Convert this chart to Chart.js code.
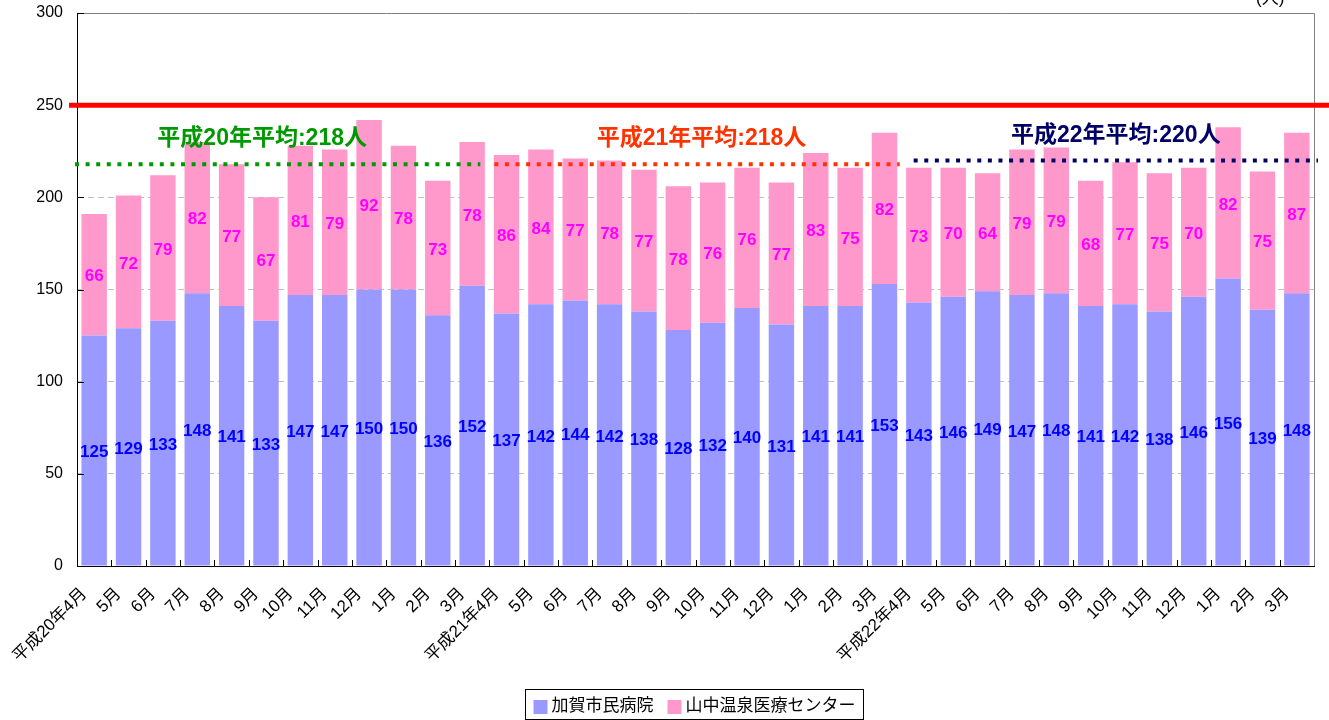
<!DOCTYPE html>
<html>
<head>
<meta charset="utf-8">
<script src="https://cdn.jsdelivr.net/npm/chart.js@4.4.0/dist/chart.umd.min.js"></script>
<style>
  html, body { margin: 0; padding: 0; background: #fff; }
  #wrap { width: 1329px; height: 720px; }
</style>
</head>
<body>
<div id="wrap"><canvas id="grafico" width="1329" height="720"></canvas></div>
<script>
// Meses (平成20年4月 ～ 平成23年3月)
const meses = [
  '平成20年4月', '5月', '6月', '7月', '8月', '9月', '10月', '11月', '12月', '1月', '2月', '3月',
  '平成21年4月', '5月', '6月', '7月', '8月', '9月', '10月', '11月', '12月', '1月', '2月', '3月',
  '平成22年4月', '5月', '6月', '7月', '8月', '9月', '10月', '11月', '12月', '1月', '2月', '3月'
];

// 加賀市民病院
const kagaShimin = [
  125, 129, 133, 148, 141, 133, 147, 147, 150, 150, 136, 152,
  137, 142, 144, 142, 138, 128, 132, 140, 131, 141, 141, 153,
  143, 146, 149, 147, 148, 141, 142, 138, 146, 156, 139, 148
];

// 山中温泉医療センター
const yamanaka = [
  66, 72, 79, 82, 77, 67, 81, 79, 92, 78, 73, 78,
  86, 84, 77, 78, 77, 78, 76, 76, 77, 83, 75, 82,
  73, 70, 64, 79, 79, 68, 77, 75, 70, 82, 75, 87
];

const serieNombres = ['加賀市民病院', '山中温泉医療センター'];

// Promedios anuales
const promedioTextos = ['平成20年平均:218人', '平成21年平均:218人', '平成22年平均:220人'];
const promedioValores = [218, 218, 220];
const promedioDesde = [0, 12, 24];
const promedioHasta = [11, 23, 35];

// Linea de referencia
const lineaObjetivo = 250;

const yTicks = [0, 50, 100, 150, 200, 250, 300];

// estilos
const colorBarras = ['#9999ff', '#ff99cc'];
const colorEtiquetas = ['#0000ff', '#ff00ff'];
const promedioColores = ['#009900', '#ff3300', '#000066'];
const promedioInicio = [-2, 5, 12];   // ajuste del trazo punteado (px)
const promedioFin = [-9, -2, 4];
const promedioTextoDx = [-21, 6, 8];
const fuente = '"Liberation Sans", Arial, "Noto Sans CJK JP", sans-serif';

const extras = {
  id: 'extras',
  afterDatasetsDraw(chart) {
    const { ctx, chartArea: a, scales: { x, y } } = chart;
    const ancho = x.getPixelForValue(1) - x.getPixelForValue(0);
    const limite = i => x.getPixelForValue(i) - ancho / 2;
    ctx.save();

    // marco superior / derecho
    ctx.strokeStyle = '#808080';
    ctx.lineWidth = 1;
    ctx.beginPath();
    ctx.moveTo(a.left, Math.round(a.top) + 0.5);
    ctx.lineTo(Math.round(a.right) + 0.5, Math.round(a.top) + 0.5);
    ctx.lineTo(Math.round(a.right) + 0.5, a.bottom);
    ctx.stroke();

    // marcas interiores
    ctx.strokeStyle = '#000';
    ctx.beginPath();
    for (let i = 1; i < meses.length; i++) {
      const px = Math.round(limite(i)) + 0.5;
      ctx.moveTo(px, a.bottom);
      ctx.lineTo(px, a.bottom - 6);
    }
    yTicks.forEach(v => {
      const py = Math.round(y.getPixelForValue(v)) + 0.5;
      ctx.moveTo(a.left, py);
      ctx.lineTo(a.left + 7, py);
    });
    ctx.stroke();

    // etiquetas de valores
    ctx.font = 'bold 17px ' + fuente;
    ctx.textAlign = 'center';
    ctx.textBaseline = 'middle';
    chart.data.datasets.forEach((ds, d) => {
      const meta = chart.getDatasetMeta(d);
      ctx.fillStyle = colorEtiquetas[d];
      meta.data.forEach((el, i) => {
        ctx.fillText(String(ds.data[i]), el.x, (el.y + el.base) / 2 + 2);
      });
    });

    // linea 250
    const ry = y.getPixelForValue(lineaObjetivo);
    ctx.strokeStyle = '#ff0000';
    ctx.lineWidth = 5;
    ctx.beginPath();
    ctx.moveTo(a.left - 8, ry);
    ctx.lineTo(chart.width, ry);
    ctx.stroke();

    // promedios
    promedioValores.forEach((v, k) => {
      const py = y.getPixelForValue(v);
      const x0 = limite(promedioDesde[k]) + promedioInicio[k];
      const x1 = limite(promedioHasta[k] + 1) + promedioFin[k];
      ctx.strokeStyle = promedioColores[k];
      ctx.lineWidth = 4;
      ctx.setLineDash([4, 6.6]);
      ctx.beginPath();
      ctx.moveTo(x0, py);
      ctx.lineTo(x1, py);
      ctx.stroke();
      ctx.setLineDash([]);

      const cx = (x.getPixelForValue(promedioDesde[k]) + x.getPixelForValue(promedioHasta[k])) / 2 + promedioTextoDx[k];
      ctx.font = 'bold 23px ' + fuente;
      ctx.fillStyle = promedioColores[k];
      ctx.textAlign = 'center';
      ctx.textBaseline = 'middle';
      ctx.fillText(promedioTextos[k], cx, py - 25);
    });

    ctx.restore();
  },
  afterDraw(chart) {
    const { ctx } = chart;
    ctx.save();
    // unidad
    ctx.font = '17px ' + fuente;
    ctx.fillStyle = '#000';
    ctx.textAlign = 'left';
    ctx.textBaseline = 'alphabetic';
    ctx.fillText('(人)', 1256, 4);

    // leyenda
    ctx.font = '17px ' + fuente;
    const caja = 14, sep = 4, entre = 14, pad = 8;
    const anchos = serieNombres.map(n => ctx.measureText(n).width);
    const total = pad * 2 + anchos.reduce((s, w) => s + caja + sep + w, 0) + entre;
    const lx = Math.round(694 - total / 2) + 0.5;
    const ly = 689.5;
    ctx.strokeStyle = '#000';
    ctx.lineWidth = 1;
    ctx.strokeRect(lx, ly, Math.round(total), 30);
    let cx = lx + pad;
    serieNombres.forEach((n, i) => {
      ctx.fillStyle = colorBarras[i];
      ctx.fillRect(cx, ly + 10.5, caja, caja);
      ctx.fillStyle = '#000';
      ctx.textBaseline = 'middle';
      ctx.fillText(n, cx + caja + sep, ly + 17);
      cx += caja + sep + anchos[i] + entre;
    });
    ctx.restore();
  }
};

new Chart(document.getElementById('grafico'), {
  type: 'bar',
  data: {
    labels: meses,
    datasets: [
      { label: serieNombres[0], data: kagaShimin, backgroundColor: colorBarras[0] },
      { label: serieNombres[1], data: yamanaka, backgroundColor: colorBarras[1] }
    ]
  },
  options: {
    responsive: false,
    animation: false,
    devicePixelRatio: 1,
    layout: { padding: { top: 13, right: 15, left: 0, bottom: 0 } },
    datasets: { bar: { barPercentage: 0.74, categoryPercentage: 1, borderWidth: 0 } },
    plugins: { legend: { display: false }, tooltip: { enabled: false } },
    scales: {
      x: {
        stacked: true,
        grid: { display: false },
        border: { color: '#000', width: 1 },
        ticks: {
          autoSkip: false, maxRotation: 45, minRotation: 45,
          color: '#000', padding: 10, labelOffset: -10,
          font: { family: fuente, size: 17 }
        },
        afterFit(scale) { scale.height = 154; scale.paddingLeft = 0; scale.paddingRight = 0; }
      },
      y: {
        stacked: true,
        min: 0, max: 300,
        ticks: {
          stepSize: 50, color: '#000', padding: 14,
          font: { family: fuente, size: 16 }
        },
        grid: {
          color: ctx => (ctx.tick.value === 0 || ctx.tick.value === 300) ? 'rgba(0,0,0,0)' : '#c0c0c0',
          drawTicks: false
        },
        border: { color: '#000', width: 1, dash: [6, 4] },
        afterFit(scale) { scale.width = 77; scale.paddingTop = 0; scale.paddingBottom = 0; }
      }
    }
  },
  plugins: [extras]
});
</script>
</body>
</html>
